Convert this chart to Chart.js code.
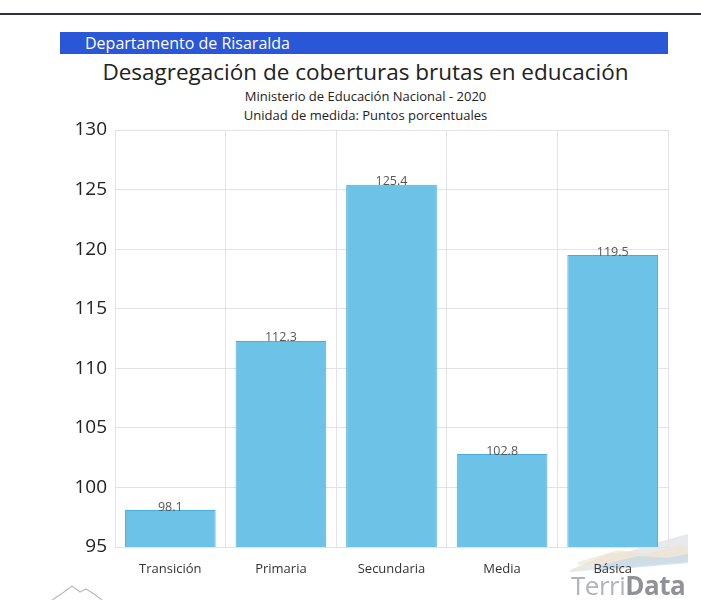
<!DOCTYPE html>
<html>
<head>
<meta charset="utf-8">
<script src="https://cdn.jsdelivr.net/npm/chart.js@4"></script>
<style>
  body { margin: 0; background: #fff; font-family: 'Open Sans', sans-serif; }
  #wrap { position: relative; width: 701px; height: 600px; overflow: hidden; }
  #topline { position: absolute; left: 0; top: 13px; width: 701px; height: 2px; background: #2f3336; }
  #banner { position: absolute; left: 60px; top: 32px; width: 608px; height: 22px; background: #2a56d8;
            color: #fff; font-size: 16px; line-height: 22px; padding-left: 25px; box-sizing: border-box; }
  .head { position: absolute; left: 0; width: 731px; text-align: center; color: #222; }
  #title { top: 56px; font-size: 22.5px; }
  #sub1 { top: 87px; font-size: 13px; }
  #sub2 { top: 106px; font-size: 13px; }
  #logo { position: absolute; left: 571px; top: 567px; font-size: 26px; color: #b2b5b8; letter-spacing: -0.5px; }
  #logo b { color: #8f9397; }
  svg { position: absolute; }
  canvas { position: absolute; left: 0; top: 0; }
</style>
</head>
<body>
<div id="wrap">
  <div id="topline"></div>
  <div id="banner">Departamento de Risaralda</div>
  <div class="head" id="title">Desagregación de coberturas brutas en educación</div>
  <div class="head" id="sub1">Ministerio de Educación Nacional - 2020</div>
  <div class="head" id="sub2">Unidad de medida: Puntos porcentuales</div>
  <svg style="left:568px; top:530px" width="125" height="45">
    <path d="M2 40 L40 24 L62 21 L90 12 L120 4 L120 32 L2 42 Z" fill="#d8dadc" opacity="0.6"/>
    <path d="M10 32 L50 20 L78 24 L110 16 L120 18 L120 27 L10 35 Z" fill="#efe3cb" opacity="0.6"/>
    <path d="M30 36 L70 26 L100 28 L120 24 L120 33 L30 41 Z" fill="#bcd5e6" opacity="0.6"/>
  </svg>
  <svg style="left:50px; top:582px" width="70" height="18">
    <polyline points="2,18 14,10 22,4 30,10 36,7 44,12 52,18" fill="none" stroke="#b9bcbf" stroke-width="1.2"/>
  </svg>
  <canvas id="chart" width="701" height="600"></canvas>
  <div id="logo">Terri<b>Data</b></div>
</div>
<script>
const categories = ['Transición', 'Primaria', 'Secundaria', 'Media', 'Básica'];
const coverage = [98.1, 112.3, 125.4, 102.8, 119.5];
const yMin = 95;
const yMax = 130;
const yStep = 5;

// draws the value above each bar
const valueLabels = {
    id: 'valueLabels',
    afterDatasetsDraw(chart) {
        const ctx = chart.ctx;
        const meta = chart.getDatasetMeta(0);
        ctx.save();
        ctx.font = "12.5px 'Open Sans', sans-serif";
        ctx.fillStyle = '#555';
        ctx.textAlign = 'center';
        ctx.textBaseline = 'middle';
        meta.data.forEach((bar, i) => {
            ctx.fillText(coverage[i].toFixed(1), bar.x, bar.y - 3);
        });
        ctx.restore();
    }
};

const ctx = document.getElementById('chart').getContext('2d');
new Chart(ctx, {
    type: 'bar',
    data: {
        labels: categories,
        datasets: [{
            data: coverage,
            backgroundColor: '#6dc2e8',
            borderColor: '#48afdd',
            borderWidth: 1,
            barPercentage: 0.82,
            categoryPercentage: 1
        }]
    },
    options: {
        responsive: false,
        animation: false,
        layout: { padding: { top: 130, right: 33, left: 0, bottom: 0 } },
        plugins: {
            legend: { display: false },
            tooltip: { enabled: false }
        },
        scales: {
            x: {
                grid: { color: '#e3e3e3', drawTicks: false },
                border: { color: '#e3e3e3' },
                ticks: { color: '#333', font: { family: "'Open Sans', sans-serif", size: 13 }, padding: 14 },
                afterFit: (scale) => { scale.height = 53; }
            },
            y: {
                min: yMin,
                max: yMax,
                grid: { color: '#e3e3e3', drawTicks: false },
                border: { color: '#e3e3e3' },
                ticks: { stepSize: yStep, color: '#222', font: { family: "'Open Sans', sans-serif", size: 19 }, padding: 8 },
                afterFit: (scale) => { scale.width = 115; }
            }
        }
    },
    plugins: [valueLabels]
});
</script>
</body>
</html>
